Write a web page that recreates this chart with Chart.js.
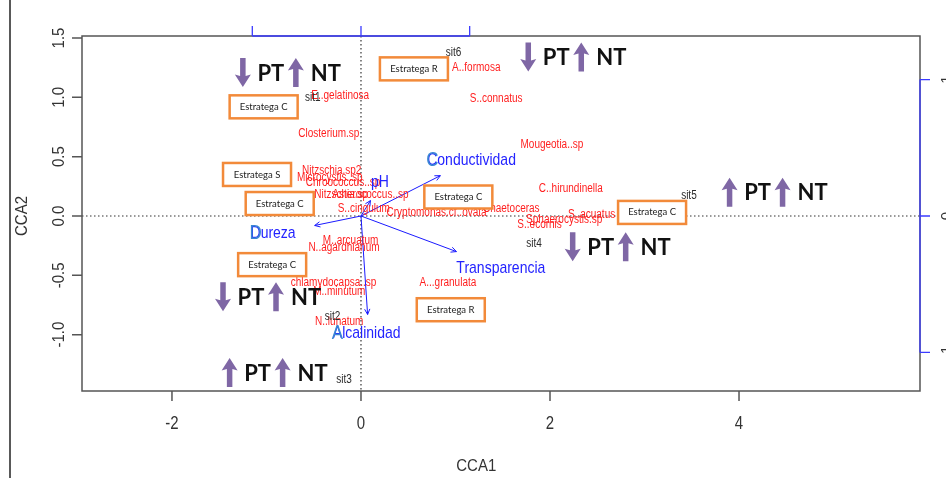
<!DOCTYPE html>
<html>
<head>
<meta charset="utf-8">
<script src="https://cdn.jsdelivr.net/npm/chart.js@4"></script>
<style>
    html, body { margin: 0; padding: 0; background: #fff; }
    #wrap { width: 946px; height: 478px; }
</style>
</head>
<body>
<div id="wrap"><canvas id="cca" width="946" height="478"></canvas></div>
<script>
// CCA biplot: species (red), sites (black), environmental vectors (blue),
// plus the strategy boxes and PT / NT trend marks pasted on top.

const xTickValues = [-2, 0, 2, 4];
const yTickValues = [-1.0, -0.5, 0.0, 0.5, 1.0, 1.5];
const yTickLabels = ['-1.0', '-0.5', '0.0', '0.5', '1.0', '1.5'];
const envAxisTicks = [-1.15, 0, 1.15];
const envAxisLabels = ['-1', '0', '1'];

const speciesNames = ['A..formosa', 'S..connatus', 'E..gelatinosa', 'Closterium.sp', 'Mougeotia..sp',
    'Nitzschia.sp2', 'Microcystis..sp', 'Chroococcus..sp', 'Nitzschia.sp', 'Asterococcus..sp',
    'S..cingulum', 'Cryptomonas.cf..ovata', 'Chaetoceras', 'C..hirundinella', 'S..acuatus',
    'Sphaerocystis.sp', 'S..ecornis', 'M..arcuatum', 'N..agardhianum', 'chlamydocapsa..sp',
    'M..minutum', 'N..lunatum', 'A...granulata'];
const speciesX = [1.22, 1.43, -0.22, -0.34, 2.02, -0.31, -0.33, -0.19, -0.21, 0.10,
    0.03, 0.80, 1.59, 2.22, 2.44, 2.15, 1.89, -0.11, -0.18, -0.29, -0.23, -0.23, 0.92];
const speciesY = [1.25, 0.99, 1.01, 0.69, 0.60, 0.38, 0.32, 0.28, 0.18, 0.18,
    0.06, 0.025, 0.06, 0.23, 0.01, -0.03, -0.07, -0.21, -0.27, -0.56, -0.64, -0.89, -0.56];

const siteNames = ['sit1', 'sit2', 'sit3', 'sit4', 'sit5', 'sit6'];
const siteX = [-0.51, -0.30, -0.18, 1.83, 3.47, 0.98];
const siteY = [1.00, -0.85, -1.38, -0.23, 0.17, 1.38];

const envNames = ['Conductividad', 'pH', 'Dureza', 'Transparencia', 'Alcalinidad'];
const envTipX = [0.84, 0.10, -0.49, 1.01, 0.07];
const envTipY = [0.34, 0.13, -0.08, -0.30, -0.83];
const envLabelX = [1.17, 0.20, -0.93, 1.48, 0.06];
const envLabelY = [0.47, 0.28, -0.15, -0.44, -0.99];
const envBigInitial = ['Conductividad', 'Dureza', 'Alcalinidad'];

const strategyNames = ['Estratega C', 'Estratega S', 'Estratega C', 'Estratega R',
    'Estratega C', 'Estratega C', 'Estratega C', 'Estratega R'];
const strategyX = [-1.03, -1.10, -0.86, 0.56, 1.03, 3.08, -0.94, 0.95];
const strategyY = [0.92, 0.35, 0.105, 1.24, 0.16, 0.03, -0.41, -0.79];

const trendX = [-1.25, 1.77, 3.90, 2.24, -1.46, -1.39];
const trendY = [1.21, 1.34, 0.20, -0.26, -0.68, -1.32];
const trendPT = ['down', 'down', 'up', 'down', 'down', 'up'];
const trendNT = ['up', 'up', 'up', 'up', 'up', 'up'];

const toPoints = (xs, ys) => xs.map((x, i) => ({ x: x, y: ys[i] }));

function textAt(ctx, text, x, y, font, color, align, stretch) {
    ctx.save();
    ctx.translate(x, y);
    ctx.scale(1, stretch || 1);
    ctx.font = font;
    ctx.fillStyle = color;
    ctx.textAlign = align || 'center';
    ctx.textBaseline = 'middle';
    ctx.fillText(text, 0, 0);
    ctx.restore();
}

function envArrow(ctx, x0, y0, x1, y1) {
    const a = Math.atan2(y1 - y0, x1 - x0);
    const h = 6;
    ctx.beginPath();
    ctx.moveTo(x0, y0);
    ctx.lineTo(x1, y1);
    ctx.stroke();
    ctx.beginPath();
    ctx.moveTo(x1 - h * Math.cos(a - 0.45), y1 - h * Math.sin(a - 0.45));
    ctx.lineTo(x1, y1);
    ctx.lineTo(x1 - h * Math.cos(a + 0.45), y1 - h * Math.sin(a + 0.45));
    ctx.stroke();
}

function blockArrow(ctx, x, yc, dir) {
    const s = dir === 'up' ? 1 : -1;
    const len = 29, head = 11, shaft = 5.5, hw = 8;
    const tip = yc - s * len / 2;
    const tail = yc + s * len / 2;
    const neck = tip + s * head;
    ctx.beginPath();
    ctx.moveTo(x, tip);
    ctx.lineTo(x + hw, neck + s * 1.5);
    ctx.lineTo(x + shaft / 2, neck);
    ctx.lineTo(x + shaft / 2, tail);
    ctx.lineTo(x - shaft / 2, tail);
    ctx.lineTo(x - shaft / 2, neck);
    ctx.lineTo(x - hw, neck + s * 1.5);
    ctx.closePath();
    ctx.fill();
}

const biplotLayer = {
    id: 'biplotLayer',
    beforeDatasetsDraw(chart) {
        const ctx = chart.ctx;
        const area = chart.chartArea;
        const xs = chart.scales.x, ys = chart.scales.y;
        ctx.save();
        ctx.fillStyle = '#fff';
        ctx.fillRect(0, 0, chart.width, chart.height);

        // stray page border on the far left
        ctx.strokeStyle = '#222';
        ctx.lineWidth = 1.5;
        ctx.beginPath();
        ctx.moveTo(10, 0);
        ctx.lineTo(10, chart.height);
        ctx.stroke();

        // dotted zero lines
        ctx.strokeStyle = '#333';
        ctx.lineWidth = 1.2;
        ctx.setLineDash([1.5, 2.5]);
        ctx.beginPath();
        ctx.moveTo(xs.getPixelForValue(0), area.top);
        ctx.lineTo(xs.getPixelForValue(0), area.bottom);
        ctx.moveTo(area.left, ys.getPixelForValue(0));
        ctx.lineTo(area.right, ys.getPixelForValue(0));
        ctx.stroke();
        ctx.restore();
    },
    afterDatasetsDraw(chart) {
        const ctx = chart.ctx;
        const area = chart.chartArea;
        const xs = chart.scales.x, ys = chart.scales.y;
        const ox = xs.getPixelForValue(0), oy = ys.getPixelForValue(0);
        const labelFont = '10px "Liberation Sans", Arial';
        const envFont = '14px "Liberation Sans", Arial';
        ctx.save();

        // environmental vectors
        ctx.strokeStyle = '#1a1aff';
        ctx.lineWidth = 1;
        chart.getDatasetMeta(2).data.forEach(el => envArrow(ctx, ox, oy, el.x, el.y));

        // species labels
        chart.getDatasetMeta(0).data.forEach((el, i) => {
            textAt(ctx, speciesNames[i], el.x, el.y, labelFont, '#ff1f1f', 'center', 1.2);
        });

        // site labels
        chart.getDatasetMeta(1).data.forEach((el, i) => {
            textAt(ctx, siteNames[i], el.x, el.y, labelFont, '#2a2a2a', 'center', 1.2);
        });

        // vector labels
        chart.getDatasetMeta(3).data.forEach((el, i) => {
            const name = envNames[i];
            ctx.font = envFont;
            const w = ctx.measureText(name).width;
            textAt(ctx, name, el.x - w / 2, el.y, envFont, '#2323ff', 'left', 1.2);
            if (envBigInitial.includes(name)) {
                textAt(ctx, name[0], el.x - w / 2 - 1, el.y, '17px "Liberation Sans", Arial', '#3a86d4', 'left', 1.15);
            }
        });

        // strategy boxes
        chart.getDatasetMeta(4).data.forEach((el, i) => {
            const bw = 68, bh = 23;
            ctx.fillStyle = '#fff';
            ctx.fillRect(el.x - bw / 2, el.y - bh / 2, bw, bh);
            ctx.strokeStyle = '#f28a3a';
            ctx.lineWidth = 2.5;
            ctx.setLineDash([]);
            ctx.strokeRect(el.x - bw / 2, el.y - bh / 2, bw, bh);
            textAt(ctx, strategyNames[i], el.x, el.y, '9.5px Lato, "Open Sans", sans-serif', '#222');
        });

        // PT / NT trend marks
        chart.getDatasetMeta(5).data.forEach((el, i) => {
            ctx.fillStyle = '#7f67a5';
            blockArrow(ctx, el.x, el.y, trendPT[i]);
            blockArrow(ctx, el.x + 53, el.y, trendNT[i]);
            textAt(ctx, 'PT', el.x + 28, el.y + 1, 'bold 22px Lato, sans-serif', '#111');
            textAt(ctx, 'NT', el.x + 83, el.y + 1, 'bold 22px Lato, sans-serif', '#111');
        });

        // plot frame
        ctx.setLineDash([]);
        ctx.strokeStyle = '#555';
        ctx.lineWidth = 1.5;
        ctx.strokeRect(area.left, area.top, area.right - area.left, area.bottom - area.top);

        // bottom axis
        ctx.beginPath();
        xTickValues.forEach(v => {
            const px = xs.getPixelForValue(v);
            ctx.moveTo(px, area.bottom);
            ctx.lineTo(px, area.bottom + 10);
        });
        ctx.stroke();
        xTickValues.forEach(v => {
            textAt(ctx, String(v), xs.getPixelForValue(v), 424, '15px "Liberation Sans", Arial', '#333', 'center', 1.2);
        });

        // left axis, labels rotated like R
        ctx.beginPath();
        yTickValues.forEach(v => {
            const py = ys.getPixelForValue(v);
            ctx.moveTo(area.left, py);
            ctx.lineTo(area.left - 10, py);
        });
        ctx.stroke();
        yTickValues.forEach((v, i) => {
            ctx.save();
            ctx.translate(59, ys.getPixelForValue(v));
            ctx.rotate(-Math.PI / 2);
            textAt(ctx, yTickLabels[i], 0, 0, '15px "Liberation Sans", Arial', '#333', 'center', 1.15);
            ctx.restore();
        });

        // secondary (vector) axes in blue
        ctx.strokeStyle = '#3b3bff';
        ctx.lineWidth = 1.3;
        ctx.beginPath();
        ctx.moveTo(xs.getPixelForValue(envAxisTicks[0]), area.top);
        ctx.lineTo(xs.getPixelForValue(envAxisTicks[envAxisTicks.length - 1]), area.top);
        envAxisTicks.forEach(v => {
            const px = xs.getPixelForValue(v);
            ctx.moveTo(px, area.top);
            ctx.lineTo(px, area.top - 10);
        });
        ctx.moveTo(area.right, ys.getPixelForValue(envAxisTicks[envAxisTicks.length - 1]));
        ctx.lineTo(area.right, ys.getPixelForValue(envAxisTicks[0]));
        envAxisTicks.forEach(v => {
            const py = ys.getPixelForValue(v);
            ctx.moveTo(area.right, py);
            ctx.lineTo(area.right + 10, py);
        });
        ctx.stroke();
        envAxisTicks.forEach((v, i) => {
            ctx.save();
            ctx.translate(area.right + 19, ys.getPixelForValue(v));
            ctx.rotate(-Math.PI / 2);
            ctx.font = '15px "Liberation Sans", Arial';
            ctx.fillStyle = '#333';
            ctx.textAlign = 'center';
            ctx.textBaseline = 'top';
            ctx.fillText(envAxisLabels[i], 0, 0);
            ctx.restore();
        });

        // axis titles
        textAt(ctx, 'CCA1', xs.getPixelForValue(1.22), 466, '15px "Liberation Sans", Arial', '#333', 'center', 1.15);
        ctx.save();
        ctx.translate(22, ys.getPixelForValue(0));
        ctx.rotate(-Math.PI / 2);
        textAt(ctx, 'CCA2', 0, 0, '15px "Liberation Sans", Arial', '#333', 'center', 1.15);
        ctx.restore();

        ctx.restore();
    }
};

const hidden = { pointRadius: 0, pointHoverRadius: 0, showLine: false };

new Chart(document.getElementById('cca'), {
    type: 'scatter',
    data: {
        datasets: [
            { label: 'species', data: toPoints(speciesX, speciesY), ...hidden },
            { label: 'sites', data: toPoints(siteX, siteY), ...hidden },
            { label: 'vectors', data: toPoints(envTipX, envTipY), ...hidden },
            { label: 'vector labels', data: toPoints(envLabelX, envLabelY), ...hidden },
            { label: 'strategies', data: toPoints(strategyX, strategyY), ...hidden },
            { label: 'trends', data: toPoints(trendX, trendY), ...hidden }
        ]
    },
    options: {
        responsive: false,
        animation: false,
        events: [],
        layout: { padding: { left: 82, right: 26, top: 36, bottom: 87 } },
        plugins: { legend: { display: false }, tooltip: { enabled: false } },
        scales: {
            x: { type: 'linear', min: -2.952, max: 5.915, display: false },
            y: { type: 'linear', min: -1.475, max: 1.517, display: false }
        }
    },
    plugins: [biplotLayer]
});
</script>
</body>
</html>
